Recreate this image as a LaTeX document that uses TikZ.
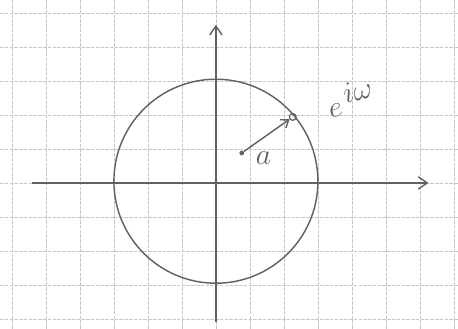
\documentclass[tikz,border=0pt]{standalone}
\usepackage{amsmath,amssymb}
\usepackage{xcolor}
\usepackage{tikz}
\usetikzlibrary{arrows.meta, positioning}

\definecolor{pencil}{RGB}{95,98,100}
\definecolor{paperline}{RGB}{195,200,205}

\begin{document}
\begin{tikzpicture}[
  x=1cm, y=1cm,
  gridline/.style={paperline, line width=0.4pt, dash pattern=on 3pt off 1pt},
  pen/.style={pencil, line width=1.2pt},
  axis/.style={pen, -{Straight Barb[length=2.6mm, width=3.6mm]}},
  dot/.style={circle, fill=pencil, inner sep=1.4pt},
  ring/.style={circle, draw=pencil, line width=1pt, inner sep=2pt},
  lbl/.style={text=pencil}
]
\useasboundingbox[fill=white] (-6.35,-4.29) rectangle (7.12,5.38);
\draw[gridline] (-6.35,-4.29) grid (7.12,5.38);
% axes
\coordinate (xl) at (-5.4,0);
\coordinate (xr) at (6.25,0);
\coordinate (yb) at (0,-4.1);
\coordinate (yt) at (0,4.65);
\draw[axis] (xl) -- (xr);
\draw[axis] (yb) -- (yt);
% unit circle
\coordinate (O) at (0,0.05);
\draw[pen] (O) circle (3);
% point a and e^{iw}
\node[dot]  (a)  at (0.76,0.88) {};
\node[ring] (ez) at (2.26,1.94) {};
\draw[pen, -{Straight Barb[length=2mm, width=3mm]}] (a) -- (ez);
\node[lbl, font=\fontsize{24}{24}\selectfont] (alabel) at (1.4,0.72) {$a$};
\node[lbl, rotate=15, font=\fontsize{33}{33}\selectfont] (elabel) at (3.95,2.5) {$e^{\,i\omega}$};
\end{tikzpicture}
\end{document}
